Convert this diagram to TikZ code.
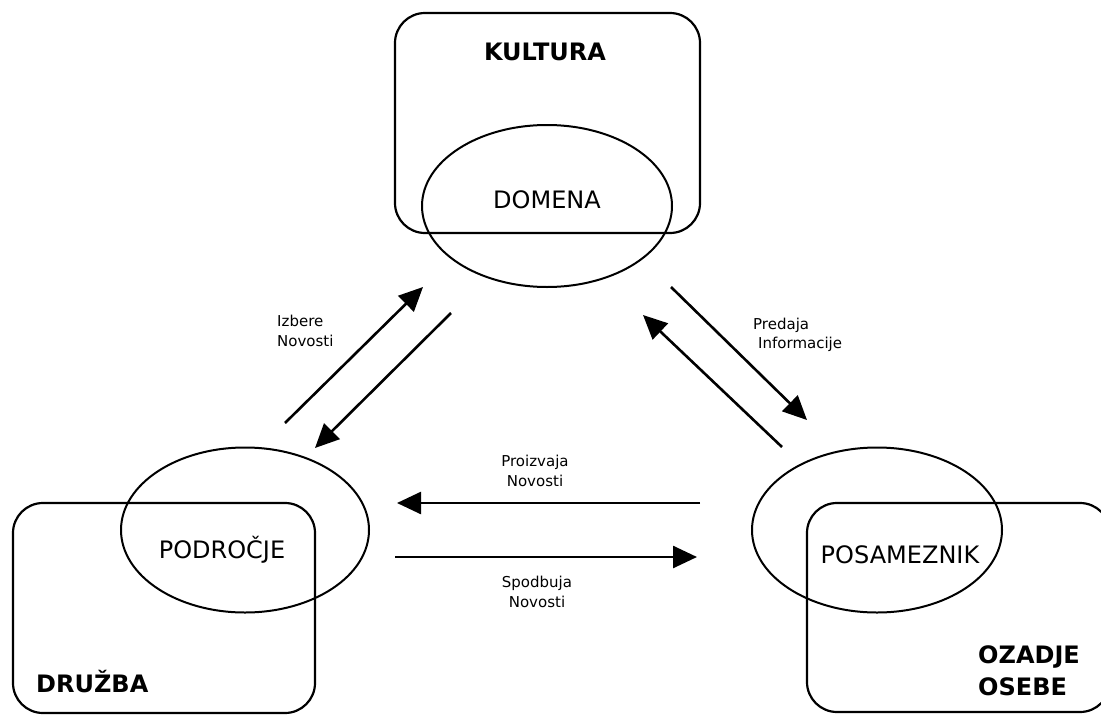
\documentclass[tikz,border=0pt]{standalone}
\usepackage{fontspec}
\setmainfont{DejaVu Sans}
\usetikzlibrary{shapes.geometric,arrows.meta}
\begin{document}
\begin{tikzpicture}[x=1pt,y=-1pt,
  frame/.style={draw, line width=2.2pt, rounded corners=30pt, inner sep=0pt},
  oval/.style={draw, ellipse, line width=2pt, inner sep=0pt},
  big/.style={font=\fontsize{24}{28}\selectfont, inner sep=0pt},
  title/.style={font=\fontsize{24}{32}\selectfont\bfseries, inner sep=0pt, align=left},
  small/.style={font=\fontsize{15}{19.5}\selectfont, inner sep=0pt},
  flow/.style={line width=2.6pt, -{Triangle[length=24pt,width=22pt]}}]
\clip (0,0) rectangle (1101,715);

% outer frames
\node[frame, minimum width=305pt, minimum height=220pt] (kultura) at (547.5,123) {};
\node[frame, minimum width=302pt, minimum height=210pt] (druzba) at (164,608) {};
\node[frame, minimum width=303pt, minimum height=209pt] (ozadje) at (958.5,607.5) {};

% ellipses
\node[oval, minimum width=250pt, minimum height=162pt] (domena) at (547,206) {};
\node[oval, minimum width=248pt, minimum height=165pt] (podrocje) at (245,530) {};
\node[oval, minimum width=250pt, minimum height=165pt] (posameznik) at (877,530) {};

% texts
\node[title] (tkultura) at (545,52) {KULTURA};
\node[title, anchor=west] (tdruzba) at (36,682) {DRUŽBA};
\node[title, anchor=west] (tozadje) at (978,671) {OZADJE\\OSEBE};
\node[big] (tdomena) at (547,200) {DOMENA};
\node[big] (tpodrocje) at (222,550) {PODROČJE};
\node[big] (tposameznik) at (900,555) {POSAMEZNIK};

% arrow end points
\coordinate (a1s) at (285,423); \coordinate (a1e) at (423,287);
\coordinate (a2s) at (451,313); \coordinate (a2e) at (315,448);
\coordinate (b1s) at (671,287); \coordinate (b1e) at (807,420);
\coordinate (b2s) at (782,447); \coordinate (b2e) at (643,315);
\coordinate (c1s) at (700,503); \coordinate (c1e) at (397,503);
\coordinate (c2s) at (395,557); \coordinate (c2e) at (697,557);

\draw[flow] (a1s) -- (a1e);
\draw[flow] (a2s) -- (a2e);
\draw[flow] (b1s) -- (b1e);
\draw[flow] (b2s) -- (b2e);
\draw[flow] (c1s) -- (c1e);
\draw[flow] (c2s) -- (c2e);

% arrow labels
\node[small, align=left, anchor=west] (lizbere) at (277,331) {Izbere\\Novosti};
\node[small, align=left, anchor=west] (lpredaja) at (753,335) {Predaja\\\hspace*{5pt}Informacije};
\node[small, align=center] (lproizvaja) at (535,471) {Proizvaja\\Novosti};
\node[small, align=center] (lspodbuja) at (537,592) {Spodbuja\\Novosti};
\end{tikzpicture}
\end{document}
